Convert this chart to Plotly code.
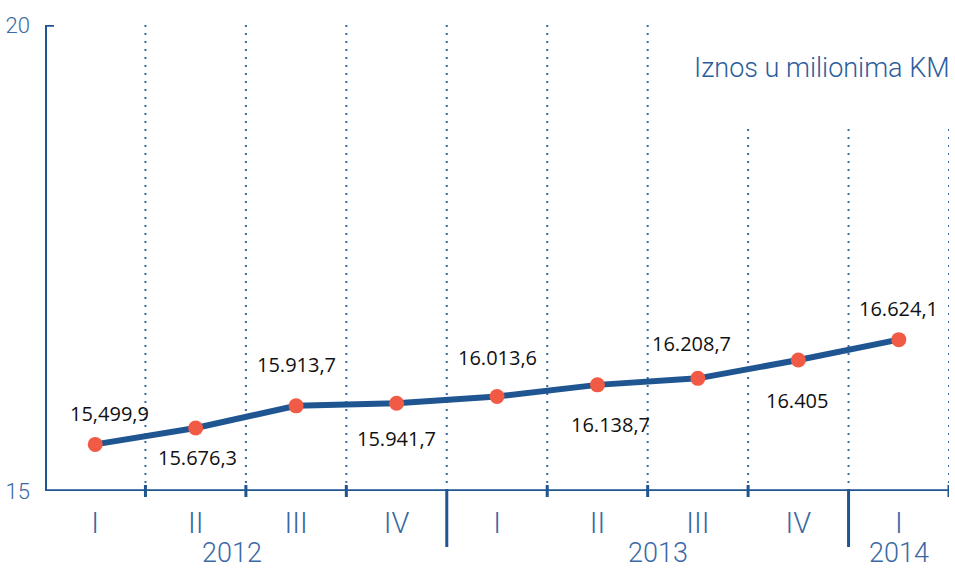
import plotly.graph_objects as go

# ---- data ----
quarters = ["I", "II", "III", "IV", "I", "II", "III", "IV", "I"]
years = ["2012", "2013", "2014"]
values = [15.4999, 15.6763, 15.9137, 15.9417, 16.0136, 16.1387, 16.2087, 16.405, 16.6241]
value_labels = ["15,499,9", "15.676,3", "15.913,7", "15.941,7", "16.013,6",
                "16.138,7", "16.208,7", "16.405", "16.624,1"]
y_ticks = [15, 20]
title_text = "Iznos u milionima KM"

# ---- style / layout ----
W, H = 955, 569
ML, MR, MT, MB = 45, 6, 25, 78
PH = H - MT - MB
DARK = "#1f5591"
LIGHT = "#3a6aa5"
RED = "#f15b45"
NARROW = "Roboto, sans-serif"
LABEL_FONT = "Open Sans, Noto Sans, sans-serif"

x = list(range(len(values)))
label_dy = [31, -30, 41, -35, 39, -40, 35, -40, 31]
label_dx = [14, 2, 0, 0, 0, 13, -6, -1, 0]
year_pos = [1.36, 5.6, 8.0]
short_top = 18.89  # top of dotted lines hidden under the title area


def py(px):
    """pixel offset from the x-axis (positive up) to paper units"""
    return px / PH


fig = go.Figure()
fig.add_trace(go.Scatter(
    x=x, y=values, mode="lines+markers",
    line=dict(color=DARK, width=6),
    marker=dict(color=RED, size=15),
    hoverinfo="skip", showlegend=False,
))

shapes = []
bounds = [i + 0.5 for i in x]
for b in bounds:
    top = 20 if b < 6 else short_top
    shapes.append(dict(type="line", xref="x", yref="y", x0=b, x1=b, y0=15, y1=top,
                       line=dict(color=LIGHT, width=2, dash="2px,6px"), layer="below"))
    if b in (3.5, 7.5):
        shapes.append(dict(type="line", xref="x", yref="paper", x0=b, x1=b,
                           y0=py(2), y1=py(-56), line=dict(color=DARK, width=3)))
    else:
        shapes.append(dict(type="line", xref="x", yref="paper", x0=b, x1=b,
                           y0=py(6), y1=py(-6), line=dict(color=DARK, width=3)))
# x axis line
shapes.append(dict(type="line", xref="x", yref="y", x0=-0.5, x1=8.52, y0=15, y1=15,
                   line=dict(color=DARK, width=3.5)))
# y axis line
shapes.append(dict(type="line", xref="x", yref="y", x0=-0.5, x1=-0.5, y0=15, y1=20,
                   line=dict(color=DARK, width=4)))
# top tick on the y axis
shapes.append(dict(type="line", xref="x", yref="y", x0=-0.56, x1=-0.41, y0=20, y1=20,
                   line=dict(color=DARK, width=3.5)))

annotations = []
for xi, v, t, dy, dx in zip(x, values, value_labels, label_dy, label_dx):
    annotations.append(dict(x=xi, y=v, xref="x", yref="y", text=t, showarrow=False,
                            xshift=dx, yshift=dy, font=dict(family=LABEL_FONT, size=20, color="#111111")))
for yr, xp in zip(years, year_pos):
    annotations.append(dict(x=xp, y=py(-62), xref="x", yref="paper", text=yr, showarrow=False,
                            yanchor="middle", font=dict(family=NARROW, size=27, color=LIGHT, weight=300)))
annotations.append(dict(x=1, y=1, xref="paper", yref="paper", xshift=3, yshift=-43,
                        xanchor="right", yanchor="middle", text=title_text, showarrow=False,
                        font=dict(family=NARROW, size=27, color="#2b5e9c", weight=300)))

fig.update_layout(
    width=W, height=H,
    margin=dict(l=ML, r=MR, t=MT, b=MB, pad=0, autoexpand=False),
    paper_bgcolor="white", plot_bgcolor="white",
    xaxis=dict(range=[-0.5, 8.5], tickvals=x, ticktext=quarters, showgrid=False,
               zeroline=False, showline=False, ticks="", ticklabelstandoff=12,
               automargin=False,
               tickfont=dict(family=NARROW, size=29, color=LIGHT, weight=300), fixedrange=True),
    yaxis=dict(range=[15, 20], tickvals=y_ticks, showgrid=False, zeroline=False,
               showline=False, ticks="", ticklabelstandoff=14, automargin=False,
               tickfont=dict(family=NARROW, size=22, color=LIGHT, weight=300), fixedrange=True),
    shapes=shapes, annotations=annotations,
)

fig.write_html(
    "out.html",
    config={"displayModeBar": False, "staticPlot": True},
    post_script="document.body.style.margin='0';document.body.style.overflow='hidden';",
)
